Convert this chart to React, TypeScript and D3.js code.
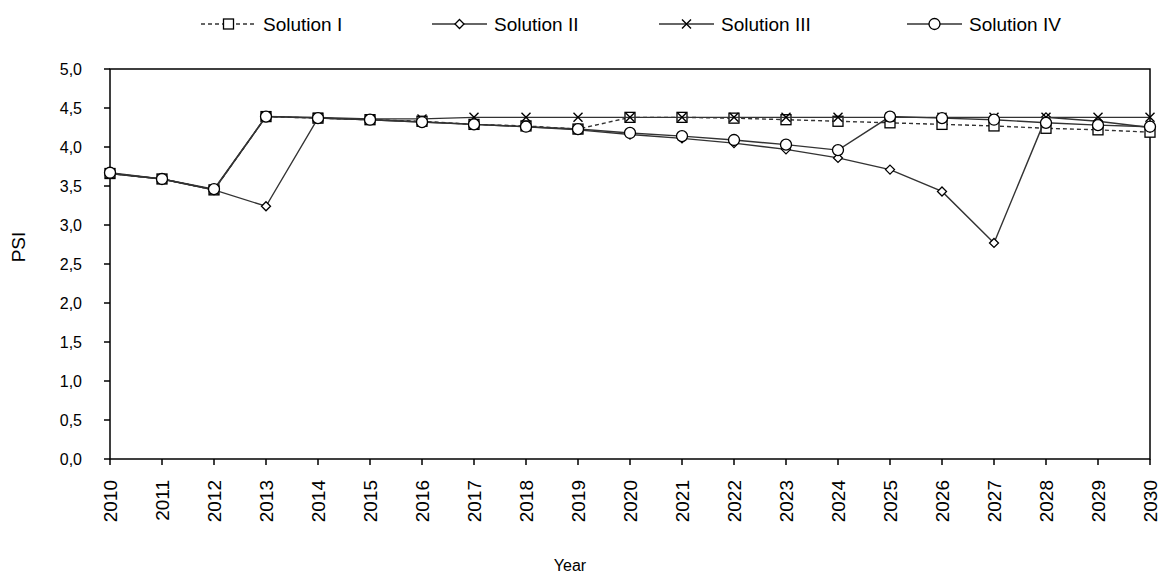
import React from "react";
import * as d3 from "d3";

const years = d3.range(2010, 2031);

const solutionI = [3.66, 3.59, 3.45, 4.39, 4.37, 4.35, 4.33, 4.29, 4.27, 4.23, 4.38, 4.38, 4.37, 4.35, 4.33, 4.31, 4.29, 4.27, 4.24, 4.22, 4.19];
const solutionII = [3.66, 3.59, 3.45, 3.24, 4.37, 4.35, 4.32, 4.29, 4.26, 4.22, 4.16, 4.11, 4.05, 3.97, 3.86, 3.71, 3.43, 2.77, 4.38, 4.33, 4.25];
const solutionIII = [3.66, 3.59, 3.45, 4.39, 4.38, 4.36, 4.36, 4.38, 4.38, 4.38, 4.38, 4.38, 4.38, 4.38, 4.38, 4.38, 4.38, 4.38, 4.38, 4.38, 4.38];
const solutionIV = [3.67, 3.59, 3.46, 4.39, 4.37, 4.35, 4.32, 4.29, 4.26, 4.23, 4.18, 4.14, 4.09, 4.03, 3.96, 4.39, 4.37, 4.35, 4.31, 4.28, 4.26];

const yTicks = d3.range(0, 5.01, 0.5);

type Marker = "square" | "diamond" | "cross" | "circle";
const seriesList: { name: string; values: number[]; marker: Marker; dashed: boolean }[] = [
  { name: "Solution I", values: solutionI, marker: "square", dashed: true },
  { name: "Solution II", values: solutionII, marker: "diamond", dashed: false },
  { name: "Solution III", values: solutionIII, marker: "cross", dashed: false },
  { name: "Solution IV", values: solutionIV, marker: "circle", dashed: false },
];

const W = 1161;
const H = 574;
const left = 110;
const right = 1150;
const top = 69;
const bottom = 459;
const font = "'Liberation Sans', Arial, sans-serif";
const lineColor = "#333";

const x = d3.scaleLinear().domain([2010, 2030]).range([left, right]);
const y = d3.scaleLinear().domain([0, 5]).range([bottom, top]);

function MarkerShape({ type, cx, cy }: { type: Marker; cx: number; cy: number }) {
  const common = { fill: "#fff", stroke: "#000", strokeWidth: 1.3 };
  if (type === "square") return <rect x={cx - 5} y={cy - 5} width={10} height={10} {...common} />;
  if (type === "circle") return <circle cx={cx} cy={cy} r={5.5} {...common} />;
  if (type === "diamond")
    return <path d={`M${cx},${cy - 4.5}L${cx + 4.5},${cy}L${cx},${cy + 4.5}L${cx - 4.5},${cy}Z`} {...common} />;
  return (
    <path
      d={`M${cx - 4.5},${cy - 4.5}L${cx + 4.5},${cy + 4.5}M${cx + 4.5},${cy - 4.5}L${cx - 4.5},${cy + 4.5}`}
      stroke="#000"
      strokeWidth={1.4}
      fill="none"
    />
  );
}

// left end of each legend entry's sample line
const legendX = [201, 432, 659, 907];
const legendY = 24;

export default function App() {
  const line = d3
    .line<number>()
    .x((_, i) => x(years[i]))
    .y((v) => y(v));

  return (
    <svg width={W} height={H} style={{ position: "absolute", left: 0, top: 0, background: "#fff" }}>
      <rect width={W} height={H} fill="#fff" />
      {/* plot frame */}
      <rect x={left} y={top} width={right - left} height={bottom - top} fill="none" stroke="#000" strokeWidth={1.5} />
      {/* y axis ticks and labels */}
      {yTicks.map((t) => (
        <g key={t}>
          <line x1={left - 6} x2={left} y1={y(t)} y2={y(t)} stroke="#000" strokeWidth={1.5} />
          <text x={82} y={y(t)} dy="0.35em" textAnchor="end" fontFamily={font} fontSize={16} fill="#000">
            {t.toFixed(1).replace(".", ",")}
          </text>
        </g>
      ))}
      {/* x axis ticks and labels */}
      {years.map((yr) => (
        <g key={yr}>
          <line x1={x(yr)} x2={x(yr)} y1={bottom} y2={bottom + 6} stroke="#000" strokeWidth={1.5} />
          <text
            transform={`translate(${x(yr)},${480}) rotate(-90)`}
            dy="0.35em"
            textAnchor="end"
            fontFamily={font}
            fontSize={19}
            fill="#000"
          >
            {yr}
          </text>
        </g>
      ))}
      <text x={570} y={571} textAnchor="middle" fontFamily={font} fontSize={16} fill="#000">
        Year
      </text>
      <text
        transform={`translate(18,247) rotate(-90)`}
        dy="0.35em"
        textAnchor="middle"
        fontFamily={font}
        fontSize={19}
        fill="#000"
      >
        PSI
      </text>
      {/* series lines */}
      {seriesList.map((s) => (
        <g key={s.name}>
          <path
            d={line(s.values) || ""}
            fill="none"
            stroke={lineColor}
            strokeWidth={1.4}
            strokeDasharray={s.dashed ? "4,3" : undefined}
          />
          {s.values.map((v, i) => (
            <MarkerShape key={i} type={s.marker} cx={x(years[i])} cy={y(v)} />
          ))}
        </g>
      ))}
      {/* legend */}
      {seriesList.map((s, i) => (
        <g key={s.name}>
          <line
            x1={legendX[i]}
            x2={legendX[i] + 55}
            y1={legendY}
            y2={legendY}
            stroke={lineColor}
            strokeWidth={1.4}
            strokeDasharray={s.dashed ? "4,3" : undefined}
          />
          <MarkerShape type={s.marker} cx={legendX[i] + 27.5} cy={legendY} />
          <text x={legendX[i] + 62} y={legendY} dy="0.35em" fontFamily={font} fontSize={19} fill="#000">
            {s.name}
          </text>
        </g>
      ))}
    </svg>
  );
}
